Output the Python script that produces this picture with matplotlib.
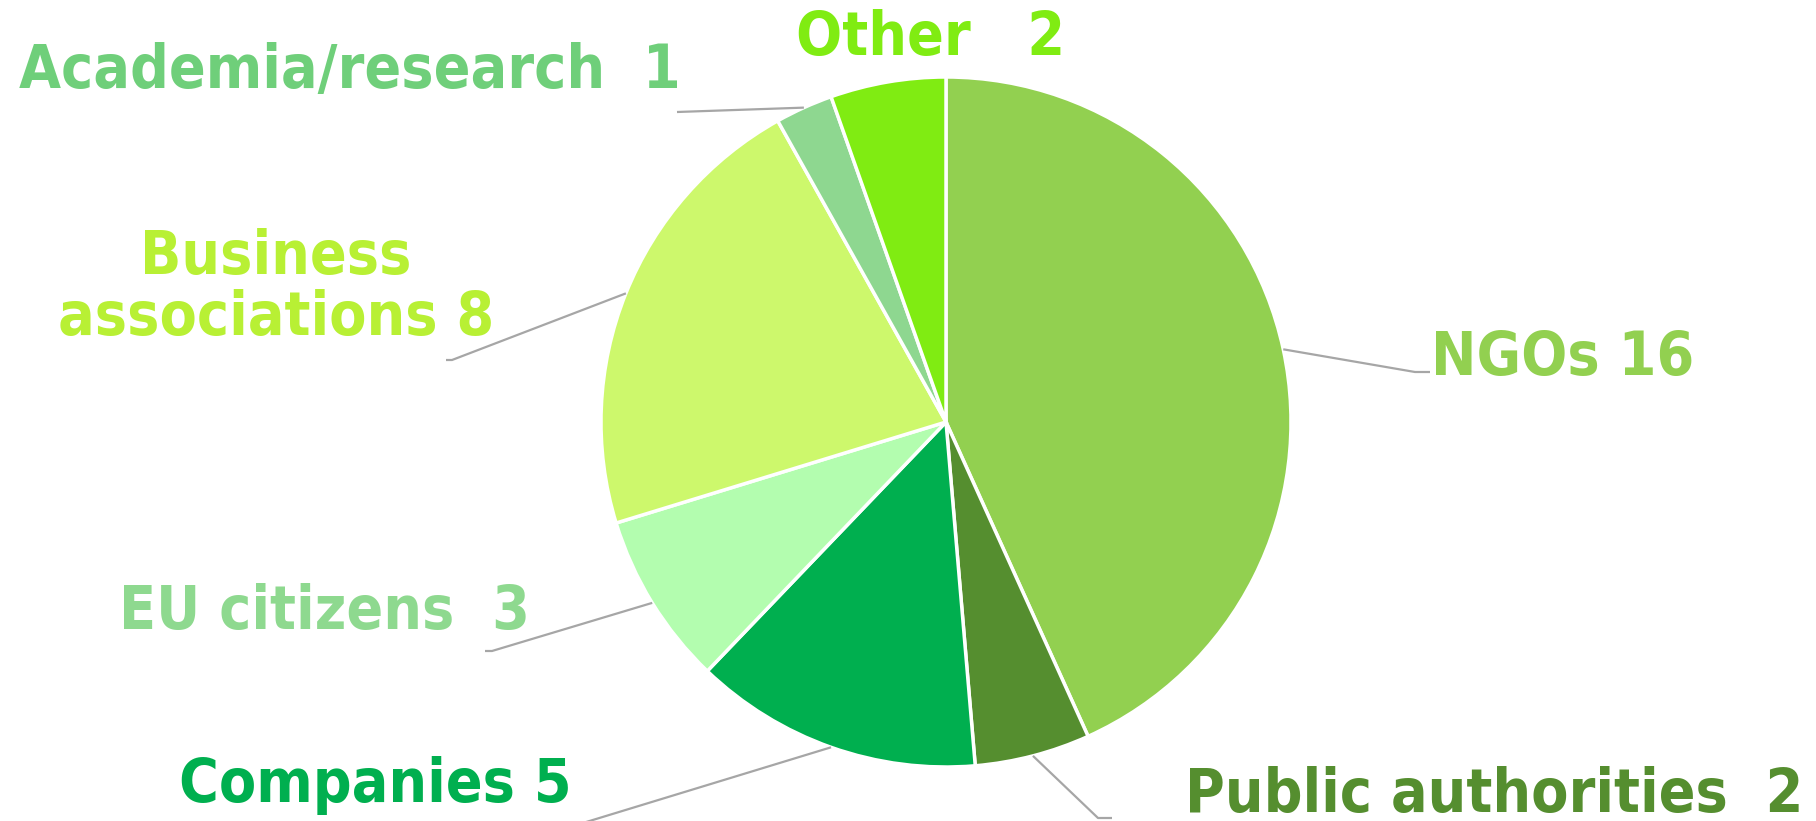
import math
import matplotlib
matplotlib.use("Agg")
import matplotlib.pyplot as plt

# chart data
categories = ["NGOs", "Public authorities", "Companies", "EU citizens",
              "Business associations", "Academia/research", "Other"]
counts = [16, 2, 5, 3, 8, 1, 2]
label_texts = ["NGOs 16", "Public authorities  2", "Companies 5", "EU citizens  3",
               "Business\nassociations 8", "Academia/research  1", "Other   2"]

wedge_colors = ["#92D050", "#558E2F", "#00AF4F", "#B3FDAF",
                "#CDF86C", "#8ED790", "#80EC12"]
text_colors = ["#92D050", "#558E2F", "#00AF4F", "#8ED98F",
               "#B8F034", "#6FCF7A", "#80EC12"]

W, H = 1816, 821
CX, CY, R = 946, 422, 345   # pie centre and radius in pixels (y down)

# label centres (pixels, y down) and the elbow of each leader line
label_pos = [(1563, 358), (1494, 795), (375, 785), (324, 613),
             (276, 288), (350, 71), (931, 38)]
elbows = [[(1415, 372), (1430, 372)],
          [(1098, 818), (1112, 818)],
          [(560, 830)],
          [(492, 651), (485, 651)],
          [(452, 360), (446, 360)],
          [(677, 112)],
          None]


def flip(y):
    """pixel y (down) to data y (up)"""
    return H - y


def main():
    fig = plt.figure(figsize=(W / 100, H / 100), dpi=100)
    ax = fig.add_axes([0, 0, 1, 1])

    ax.pie(counts, colors=wedge_colors, startangle=90, counterclock=False,
           center=(CX, flip(CY)), radius=R, frame=True,
           wedgeprops=dict(edgecolor="white", linewidth=2.5))
    ax.set_xlim(0, W)
    ax.set_ylim(0, H)
    ax.axis("off")

    total = sum(counts)
    angle = 90.0
    for i in range(len(counts)):
        sweep = counts[i] / total * 360
        mid = math.radians(angle - sweep / 2)
        angle -= sweep

        # leader line from the wedge edge to the label
        if elbows[i] is not None:
            xs = [CX + R * math.cos(mid)]
            ys = [flip(CY) + R * math.sin(mid)]
            for ex, ey in elbows[i]:
                xs.append(ex)
                ys.append(flip(ey))
            ax.plot(xs, ys, color="#A6A6A6", lw=1.6, solid_capstyle="butt")

        lx, ly = label_pos[i]
        ax.text(lx, flip(ly), label_texts[i], ha="center", va="center",
                fontsize=43.5, fontweight="bold", fontstretch="condensed",
                color=text_colors[i], family="DejaVu Sans", linespacing=1.05)

    fig.savefig("out.png", dpi=100, facecolor="white")


if __name__ == "__main__":
    main()
